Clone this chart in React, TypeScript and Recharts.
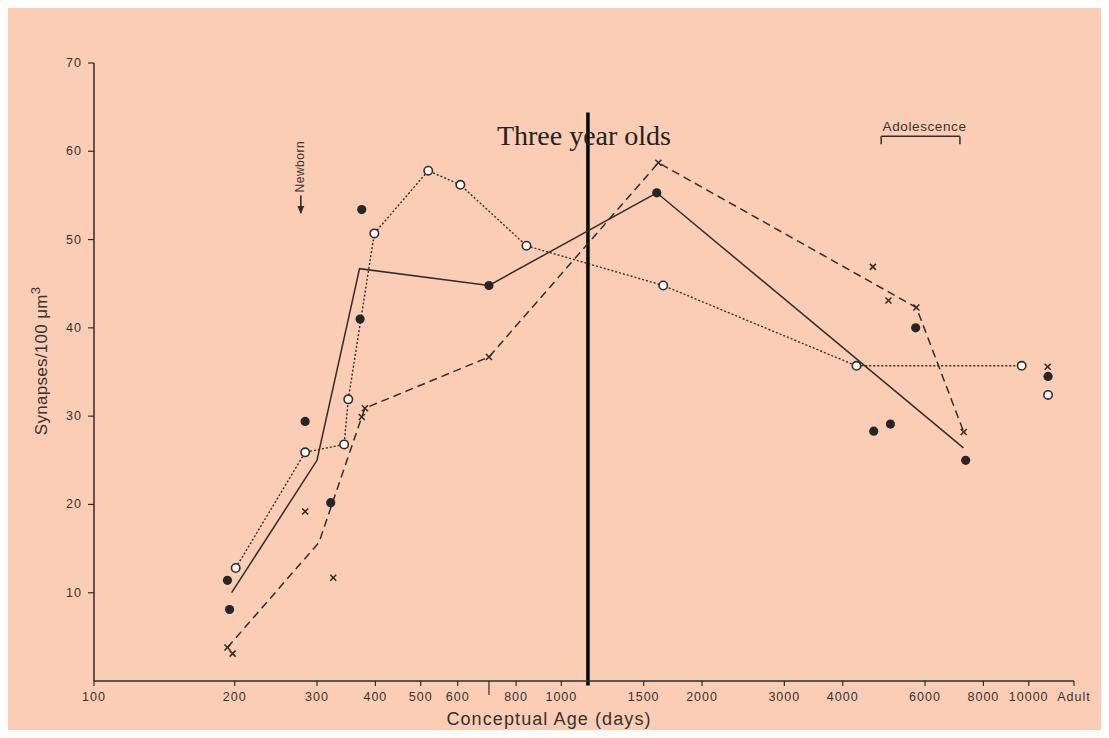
import { ComposedChart, Line, Scatter, XAxis, YAxis, ReferenceLine } from "recharts";

// conceptual age (days) / synapses per 100 um3
const solidAge = [197, 300, 370, 700, 1600, 7250];
const solidVal = [10.0, 25.0, 46.7, 44.8, 55.3, 26.4];

const filledAge = [193, 195, 283, 321, 371, 374, 700, 1600, 4660, 5060, 5730, 7330, 11000];
const filledVal = [11.4, 8.1, 29.4, 20.2, 41.0, 53.4, 44.8, 55.3, 28.3, 29.1, 40.0, 25.0, 34.5];

const dottedAge = [201, 283, 343, 350, 398, 519, 608, 842, 1652, 4280, 9660];
const dottedVal = [12.8, 25.9, 26.8, 31.9, 50.7, 57.8, 56.2, 49.3, 44.8, 35.7, 35.7];

const openAge = [11000];
const openVal = [32.4];

const dashedAge = [193, 303, 374, 380, 700, 1613, 5750, 7260];
const dashedVal = [3.8, 15.7, 29.9, 30.9, 36.7, 58.7, 42.3, 28.2];

const crossAge = [193, 198, 283, 325, 374, 380, 700, 1613, 4640, 5010, 5750, 7260, 10980];
const crossVal = [3.8, 3.1, 19.2, 11.7, 29.9, 30.9, 36.7, 58.7, 46.9, 43.1, 42.3, 28.2, 35.6];

const xTicks = [100, 200, 300, 400, 500, 600, 700, 800, 1000, 1500, 2000, 3000, 4000, 6000, 8000, 10000, 12500];
const xTickLabels = ["100", "200", "300", "400", "500", "600", "", "800", "1000", "1500", "2000", "3000", "4000", "6000", "8000", "10000", "Adult"];
const yTicks = [10, 20, 30, 40, 50, 60, 70];

const threeYears = 1140;
const newbornAge = 277;
const adolescence = [4835, 7126];

const pts = (xs: number[], ys: number[]) => xs.map((x, i) => ({ x, y: ys[i] }));

const ink = "#2e2e2e";
const sans = "'Liberation Sans', Arial, sans-serif";

function XTick({ x, y, payload }: any) {
  const i = xTicks.indexOf(payload.value);
  const label = xTickLabels[i];
  return (
    <g>
      <line x1={x} x2={x} y1={y} y2={y + (label === "" ? 14 : 5)} stroke={ink} strokeWidth={1.2} />
      <text
        x={x}
        y={y + 20}
        textAnchor="middle"
        fontSize={12.5}
        letterSpacing={1}
        fontFamily={sans}
        fill="#333"
      >
        {label}
      </text>
    </g>
  );
}

function YTick({ x, y, payload }: any) {
  return (
    <g>
      <line x1={x - 6} x2={x} y1={y} y2={y} stroke={ink} strokeWidth={1.2} />
      <text
        x={x - 12}
        y={y + 4}
        textAnchor="end"
        fontSize={12.5}
        letterSpacing={1}
        fontFamily={sans}
        fill="#333"
      >
        {payload.value}
      </text>
    </g>
  );
}

export default function App() {
  return (
    <div style={{ width: 1093, height: 722, background: "#fccdb5" }}>
      <ComposedChart width={1093} height={722} margin={{ top: 55, right: 27, bottom: 0, left: 0 }}>
        <XAxis
          type="number"
          dataKey="x"
          scale="log"
          domain={[100, 12500]}
          allowDataOverflow
          ticks={xTicks}
          interval={0}
          height={49}
          tickSize={0}
          tickMargin={0}
          tick={<XTick />}
          axisLine={{ stroke: ink, strokeWidth: 1.5 }}
          label={{
            value: "Conceptual Age (days)",
            position: "insideBottom",
            offset: 5,
            dx: -35,
            fontSize: 18,
            letterSpacing: 1.1,
            fontFamily: sans,
            fill: "#333",
          }}
        />
        <YAxis
          type="number"
          dataKey="y"
          domain={[0, 70]}
          ticks={yTicks}
          interval={0}
          width={86}
          tickSize={0}
          tickMargin={0}
          tick={<YTick />}
          axisLine={{ stroke: ink, strokeWidth: 1.5 }}
          label={(p: any) => {
            const vb = p.viewBox;
            const cx = vb.x + 39;
            const cy = vb.y + vb.height / 2 - 11;
            return (
              <text
                x={cx}
                y={cy}
                transform={`rotate(-90, ${cx}, ${cy})`}
                textAnchor="middle"
                fontSize={17}
                letterSpacing={0.3}
                fontFamily={sans}
                fill="#333"
              >
                Synapses/100 μm<tspan dy={-7} fontSize={13}>3</tspan>
              </text>
            );
          }}
        />

        <ReferenceLine
          segment={[{ x: threeYears, y: -0.5 }, { x: threeYears, y: 64.4 }]}
          stroke="#000"
          strokeWidth={3.5}
          ifOverflow="visible"
          label={(p: any) => (
            <text
              x={p.viewBox.x - 4}
              y={p.viewBox.y + 33}
              textAnchor="middle"
              fontSize={28}
              fontFamily="'Liberation Serif', 'Times New Roman', serif"
              fill="#222"
            >
              Three year olds
            </text>
          )}
        />
        <ReferenceLine
          segment={[{ x: newbornAge, y: 55.0 }, { x: newbornAge, y: 53.0 }]}
          stroke={ink}
          strokeWidth={1.6}
          label={(p: any) => {
            const { x, y, height } = p.viewBox;
            const tip = y + height + 1;
            const tx = x + 3.5;
            const ty = y - 3;
            return (
              <g>
                <polygon points={`${x - 3.5},${tip - 8} ${x + 3.5},${tip - 8} ${x},${tip}`} fill={ink} />
                <text
                  x={tx}
                  y={ty}
                  transform={`rotate(-90, ${tx}, ${ty})`}
                  textAnchor="start"
                  fontSize={12}
                  letterSpacing={0.5}
                  fontFamily={sans}
                  fill="#333"
                >
                  Newborn
                </text>
              </g>
            );
          }}
        />
        <ReferenceLine
          segment={[{ x: adolescence[0], y: 61.7 }, { x: adolescence[1], y: 61.7 }]}
          stroke={ink}
          strokeWidth={1.5}
          label={(p: any) => {
            const { x, y, width } = p.viewBox;
            return (
              <g>
                <line x1={x} x2={x} y1={y} y2={y + 8} stroke={ink} strokeWidth={1.5} />
                <line x1={x + width} x2={x + width} y1={y} y2={y + 8} stroke={ink} strokeWidth={1.5} />
                <text
                  x={x + width / 2 + 4}
                  y={y - 5}
                  textAnchor="middle"
                  fontSize={13.5}
                  letterSpacing={0.6}
                  fontFamily={sans}
                  fill="#333"
                >
                  Adolescence
                </text>
              </g>
            );
          }}
        />

        <Line
          data={pts(dashedAge, dashedVal)}
          dataKey="y"
          stroke={ink}
          strokeWidth={1.5}
          strokeDasharray="8 5"
          dot={false}
          isAnimationActive={false}
        />
        <Line
          data={pts(solidAge, solidVal)}
          dataKey="y"
          stroke={ink}
          strokeWidth={1.5}
          dot={false}
          isAnimationActive={false}
        />
        <Line
          data={pts(dottedAge, dottedVal)}
          dataKey="y"
          stroke={ink}
          strokeWidth={1.4}
          strokeDasharray="2 2"
          dot={(p: any) => (
            <circle key={p.index} cx={p.cx} cy={p.cy} r={4.2} fill="#fff" stroke={ink} strokeWidth={1.6} />
          )}
          isAnimationActive={false}
        />
        <Scatter
          data={pts(filledAge, filledVal)}
          dataKey="y"
          isAnimationActive={false}
          shape={(p: any) => <circle cx={p.cx} cy={p.cy} r={4.6} fill="#262626" />}
        />
        <Scatter
          data={pts(openAge, openVal)}
          dataKey="y"
          isAnimationActive={false}
          shape={(p: any) => <circle cx={p.cx} cy={p.cy} r={4.2} fill="#fff" stroke={ink} strokeWidth={1.6} />}
        />
        <Scatter
          data={pts(crossAge, crossVal)}
          dataKey="y"
          isAnimationActive={false}
          shape={(p: any) => (
            <g stroke={ink} strokeWidth={1.6}>
              <line x1={p.cx - 3} y1={p.cy - 3} x2={p.cx + 3} y2={p.cy + 3} />
              <line x1={p.cx - 3} y1={p.cy + 3} x2={p.cx + 3} y2={p.cy - 3} />
            </g>
          )}
        />
      </ComposedChart>
    </div>
  );
}
